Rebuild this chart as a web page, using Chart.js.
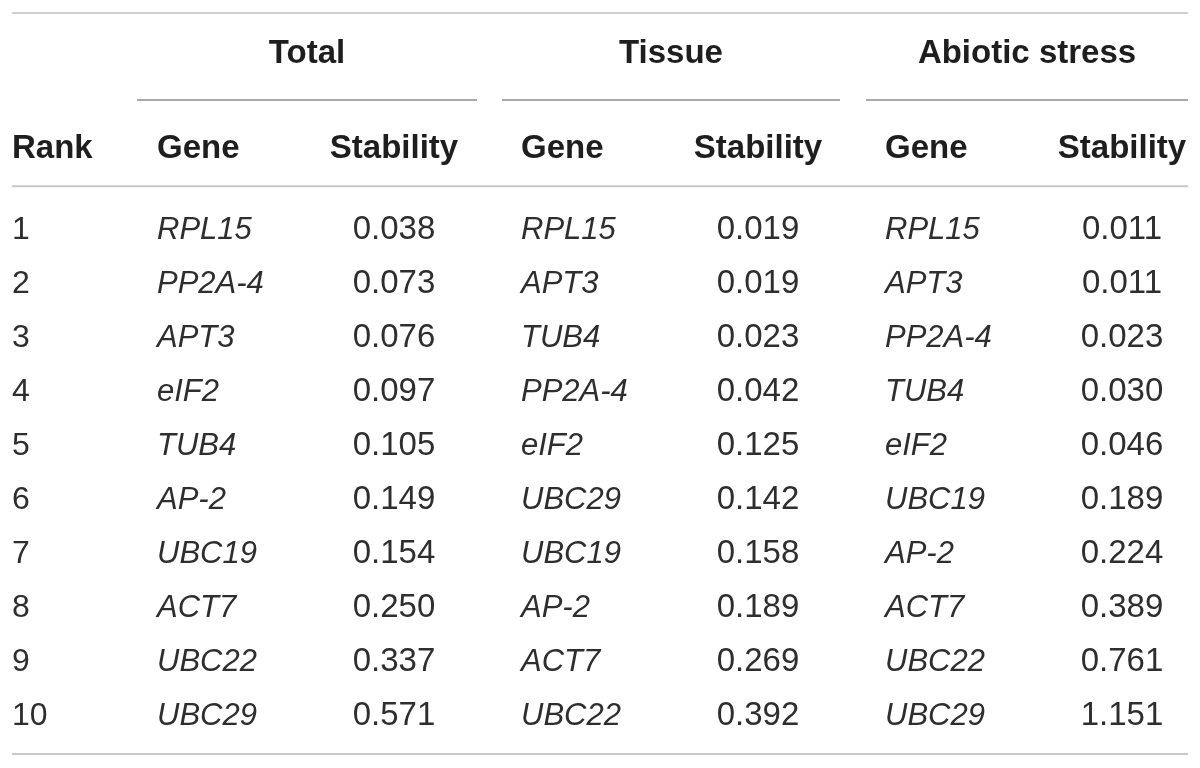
<!DOCTYPE html>
<html>
<head>
<meta charset="utf-8">
<script src="https://cdn.jsdelivr.net/npm/chart.js@4"></script>
<style>
  html, body { margin: 0; padding: 0; background: #fff; }
  #wrap { width: 1200px; height: 768px; }
</style>
</head>
<body>
<div id="wrap"><canvas id="stabilityTable"></canvas></div>
<script>
// table content
const groups = ['Total', 'Tissue', 'Abiotic stress'];
const ranks = [1, 2, 3, 4, 5, 6, 7, 8, 9, 10];
const totalGenes = ['RPL15', 'PP2A-4', 'APT3', 'eIF2', 'TUB4', 'AP-2', 'UBC19', 'ACT7', 'UBC22', 'UBC29'];
const totalStability = [0.038, 0.073, 0.076, 0.097, 0.105, 0.149, 0.154, 0.250, 0.337, 0.571];
const tissueGenes = ['RPL15', 'APT3', 'TUB4', 'PP2A-4', 'eIF2', 'UBC29', 'UBC19', 'AP-2', 'ACT7', 'UBC22'];
const tissueStability = [0.019, 0.019, 0.023, 0.042, 0.125, 0.142, 0.158, 0.189, 0.269, 0.392];
const abioticGenes = ['RPL15', 'APT3', 'PP2A-4', 'TUB4', 'eIF2', 'UBC19', 'AP-2', 'ACT7', 'UBC22', 'UBC29'];
const abioticStability = [0.011, 0.011, 0.023, 0.030, 0.046, 0.189, 0.224, 0.389, 0.761, 1.151];

document.addEventListener('DOMContentLoaded', function () {
    // column anchors on the x scale (gene = left edge, stability = centre)
    const rankX = 12;
    const cols = [
        { gene: 157, stab: 394, from: 137, to: 477 },
        { gene: 521, stab: 758, from: 502, to: 840 },
        { gene: 885, stab: 1122, from: 866, to: 1188 }
    ];
    const groupTitleY = -2.26;
    const headerY = -0.5;
    const textNudge = 0.04; // text sits a touch below row centre

    const geneSets = [totalGenes, tissueGenes, abioticGenes];
    const stabSets = [totalStability, tissueStability, abioticStability];

    const datasets = [{
        label: 'Rank',
        kind: 'rank',
        data: ranks.map(r => ({ x: rankX, y: r + textNudge, text: String(r) }))
    }];
    geneSets.forEach(function (genes, g) {
        datasets.push({
            label: groups[g] + ' gene',
            kind: 'gene',
            data: genes.map((name, i) => ({ x: cols[g].gene, y: ranks[i] + textNudge, text: name }))
        });
        datasets.push({
            label: groups[g] + ' stability',
            kind: 'stab',
            data: stabSets[g].map((v, i) => ({ x: cols[g].stab, y: ranks[i] + textNudge, text: v.toFixed(3) }))
        });
    });

    const tablePlugin = {
        id: 'tablePlugin',
        afterDatasetsDraw(chart) {
            const ctx = chart.ctx;
            const x = chart.scales.x;
            const y = chart.scales.y;
            const px = v => x.getPixelForValue(v);
            const py = v => y.getPixelForValue(v);

            function rule(x1, x2, yv, color) {
                ctx.save();
                ctx.strokeStyle = color;
                ctx.lineWidth = 2;
                ctx.beginPath();
                ctx.moveTo(px(x1), py(yv));
                ctx.lineTo(px(x2), py(yv));
                ctx.stroke();
                ctx.restore();
            }

            // horizontal rules
            rule(12, 1188, -2.98, '#cfcfcf');
            cols.forEach(c => rule(c.from, c.to, -1.37, '#a9a9a9'));
            rule(12, 1188, 0.225, '#c8c8c8');
            rule(12, 1188, 10.74, '#c8c8c8');

            ctx.save();
            ctx.textBaseline = 'middle';

            // group titles and column headers
            ctx.fillStyle = '#1e1e1e';
            ctx.font = 'bold 33px "Liberation Sans", Arial, sans-serif';
            ctx.textAlign = 'center';
            groups.forEach((name, g) => {
                ctx.fillText(name, px((cols[g].from + cols[g].to) / 2), py(groupTitleY + textNudge));
            });
            ctx.textAlign = 'left';
            ctx.fillText('Rank', px(rankX), py(headerY + textNudge));
            cols.forEach(c => {
                ctx.textAlign = 'left';
                ctx.fillText('Gene', px(c.gene), py(headerY + textNudge));
                ctx.textAlign = 'center';
                ctx.fillText('Stability', px(c.stab), py(headerY + textNudge));
            });

            // body cells from dataset points
            ctx.fillStyle = '#2e2e2e';
            chart.data.datasets.forEach(function (ds, i) {
                const meta = chart.getDatasetMeta(i);
                if (ds.kind === 'gene') {
                    ctx.font = 'italic 31px "Liberation Sans", Arial, sans-serif';
                    ctx.textAlign = 'left';
                } else if (ds.kind === 'stab') {
                    ctx.font = '33px "Liberation Sans", Arial, sans-serif';
                    ctx.textAlign = 'center';
                } else {
                    ctx.font = '32px "Liberation Sans", Arial, sans-serif';
                    ctx.textAlign = 'left';
                }
                meta.data.forEach(function (pt, j) {
                    ctx.fillText(ds.data[j].text, pt.x, pt.y);
                });
            });
            ctx.restore();
        }
    };

    const config = {
        type: 'scatter',
        data: { datasets: datasets },
        options: {
            responsive: true,
            maintainAspectRatio: false,
            animation: false,
            layout: { padding: 0 },
            elements: { point: { radius: 0, hoverRadius: 0 } },
            plugins: {
                legend: { display: false },
                tooltip: { enabled: false }
            },
            scales: {
                x: { type: 'linear', min: 0, max: 1200, display: false },
                y: { type: 'linear', min: -3.2222, max: 11, reverse: true, display: false }
            }
        },
        plugins: [tablePlugin]
    };

    // render the table
    const stabilityTable = new Chart(
        document.getElementById('stabilityTable'),
        config
    );
});
</script>
</body>
</html>
